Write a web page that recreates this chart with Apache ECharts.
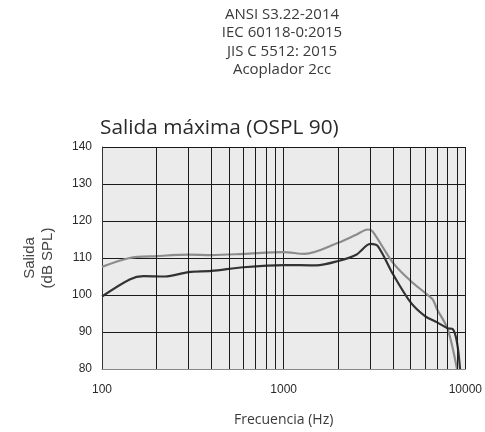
<!DOCTYPE html>
<html>
<head>
<meta charset="utf-8">
<script src="https://cdn.jsdelivr.net/npm/echarts@6/dist/echarts.min.js"></script>
<style>
  html, body { margin: 0; padding: 0; background: #fff; }
  #chart { width: 485px; height: 432px; }
</style>
</head>
<body>
<div id="chart"></div>
<script>
// curva inferior (oscura)
const darkFreq = [100, 142, 169, 222, 300, 400, 600, 1000, 1513, 2000, 2508, 3000, 3298, 4000, 5000, 6000, 7000, 8000, 8517, 9000, 9353];
const darkSpl  = [99.6, 104.2, 105.1, 105.0, 106.2, 106.5, 107.5, 108.1, 108.0, 109.2, 110.9, 113.8, 113.2, 105.6, 98.0, 94.3, 92.6, 91.0, 90.8, 87.2, 80];

// curva superior (gris)
const lightFreq = [100, 142, 200, 300, 400, 600, 1000, 1303, 2000, 2508, 2906, 3086, 4000, 5000, 6000, 6610, 7000, 8000, 9000];
const lightSpl  = [107.6, 110.0, 110.5, 110.9, 110.8, 111.1, 111.6, 111.1, 114.1, 116.3, 117.7, 117.2, 108.7, 103.8, 100.6, 98.8, 96.1, 90.8, 80];

const minorFreqs = [200, 300, 400, 500, 600, 700, 800, 900, 2000, 3000, 4000, 5000, 6000, 7000, 8000, 9000];
const headerLines = ["ANSI S3.22-2014", "IEC 60118-0:2015", "JIS C 5512: 2015", "Acoplador 2cc"];

const pairs = (xs, ys) => xs.map((x, i) => [x, ys[i]]);
const font = "'Open Sans', sans-serif";
const tickFont = "'Liberation Sans', Arial, sans-serif";

const chart = echarts.init(document.getElementById("chart"));
chart.setOption({
  animation: false,
  textStyle: { fontFamily: font },
  title: {
    text: "Salida máxima (OSPL 90)",
    left: 100,
    top: 118,
    padding: 0,
    textStyle: { fontSize: 20.8, fontWeight: "normal", color: "#2a2a2a", fontFamily: font }
  },
  graphic: [{
    type: "text",
    x: 282,
    y: 5,
    style: {
      text: headerLines.join("\n"),
      align: "center",
      verticalAlign: "top",
      fontSize: 15,
      lineHeight: 18.6,
      fill: "#3a3a3a",
      fontFamily: font
    }
  }],
  grid: {
    left: 102,
    right: 18,
    top: 147,
    bottom: 62,
    show: true,
    backgroundColor: "#ebebeb",
    borderWidth: 0
  },
  xAxis: {
    type: "log",
    logBase: 10,
    min: 100,
    max: 10000,
    name: "Frecuencia (Hz)",
    nameLocation: "middle",
    nameGap: 44,
    nameTextStyle: { fontSize: 14, color: "#3a3a3a", fontFamily: font },
    axisLine: { lineStyle: { color: "#888" } },
    axisTick: { show: false },
    axisLabel: {
      fontSize: 12,
      color: "#2a2a2a",
      margin: 15,
      fontFamily: tickFont,
      formatter: v => String(v)
    },
    splitLine: { show: true, lineStyle: { color: "#1a1a1a", width: 1 } }
  },
  yAxis: {
    type: "value",
    min: 80,
    max: 140,
    interval: 10,
    name: "Salida\n(dB SPL)",
    nameLocation: "middle",
    nameRotate: 90,
    nameGap: 45,
    nameTextStyle: { fontSize: 15, color: "#444", lineHeight: 18, fontFamily: tickFont },
    axisLine: { show: true, lineStyle: { color: "#333" } },
    axisTick: { show: false },
    axisLabel: { fontSize: 12, color: "#2a2a2a", margin: 10, fontFamily: tickFont },
    splitLine: { show: true, lineStyle: { color: "#1a1a1a", width: 1 } }
  },
  series: [
    {
      type: "line",
      data: [],
      silent: true,
      markLine: {
        silent: true,
        symbol: "none",
        label: { show: false },
        lineStyle: { color: "#1a1a1a", width: 1, type: "solid" },
        data: minorFreqs.map(f => ({ xAxis: f }))
      }
    },
    {
      type: "line",
      data: pairs(lightFreq, lightSpl),
      smooth: 0.3,
      symbol: "none",
      lineStyle: { color: "#8c8c8c", width: 2.2 }
    },
    {
      type: "line",
      data: pairs(darkFreq, darkSpl),
      smooth: 0.3,
      symbol: "none",
      lineStyle: { color: "#333", width: 2.2 }
    }
  ]
});
</script>
</body>
</html>
